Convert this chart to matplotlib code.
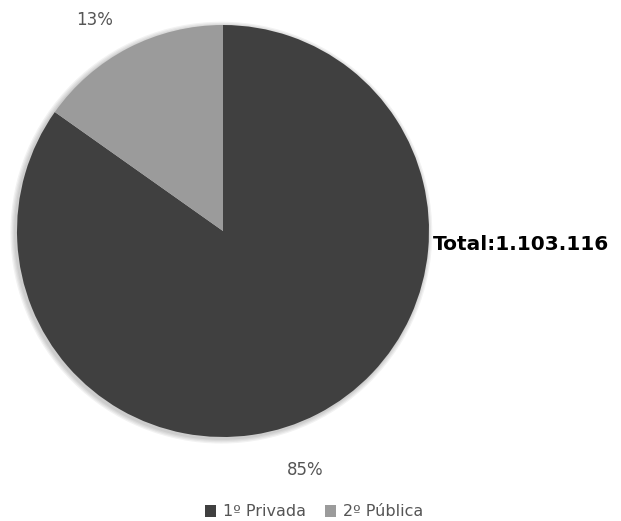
import matplotlib.pyplot as plt
from matplotlib.patches import Circle, Patch

# slice shares (the printed labels say 85% / 13%)
categories = ["1º Privada", "2º Pública"]
shares = [84.8, 15.2]
pct_labels = ["85%", "13%"]
total_label = "Total:1.103.116"
colors = ["#404040", "#9b9b9b"]

fig = plt.figure(figsize=(6.21, 5.21), dpi=100)
fig.patch.set_facecolor("white")

# pie centre ~ (223, 231) px, radius ~ 206 px
cx, cy = 223 / 621, 1 - 231 / 521
rw, rh = 206 / 621, 206 / 521
ax = fig.add_axes([cx - rw, cy - rh, 2 * rw, 2 * rh])
ax.axis("off")

wedges, _ = ax.pie(shares, colors=colors, startangle=90, counterclock=False,
                   radius=1, wedgeprops=dict(linewidth=0))
for w in wedges:
    w.set_zorder(2)

# soft shadow behind the pie
for i in range(4):
    r = 1.0 + 0.006 * (i + 1)
    ax.add_patch(Circle((-0.008, -0.008), r, color="black", alpha=0.05, lw=0,
                        zorder=0, clip_on=False))

ax.set_xlim(-1, 1)
ax.set_ylim(-1, 1)
ax.set_aspect("equal")

fig.text(95 / 621, 1 - 20 / 521, pct_labels[1], ha="center", va="center",
         fontsize=12, color="#555555")
fig.text(305 / 621, 1 - 470 / 521, pct_labels[0], ha="center", va="center",
         fontsize=12, color="#555555")
fig.text(433 / 621, 1 - 245 / 521, total_label, ha="left", va="center",
         fontsize=14.5, fontweight="bold", color="black")

handles = [Patch(facecolor=c, edgecolor="none") for c in colors]
fig.legend(handles, categories, loc="center", bbox_to_anchor=(314 / 621, 1 - 512 / 521),
           ncol=2, frameon=False, fontsize=11.5, labelcolor="#555555",
           handlelength=0.7, handleheight=0.7, handletextpad=0.4, columnspacing=1.2)

fig.savefig("out.png", dpi=100)
